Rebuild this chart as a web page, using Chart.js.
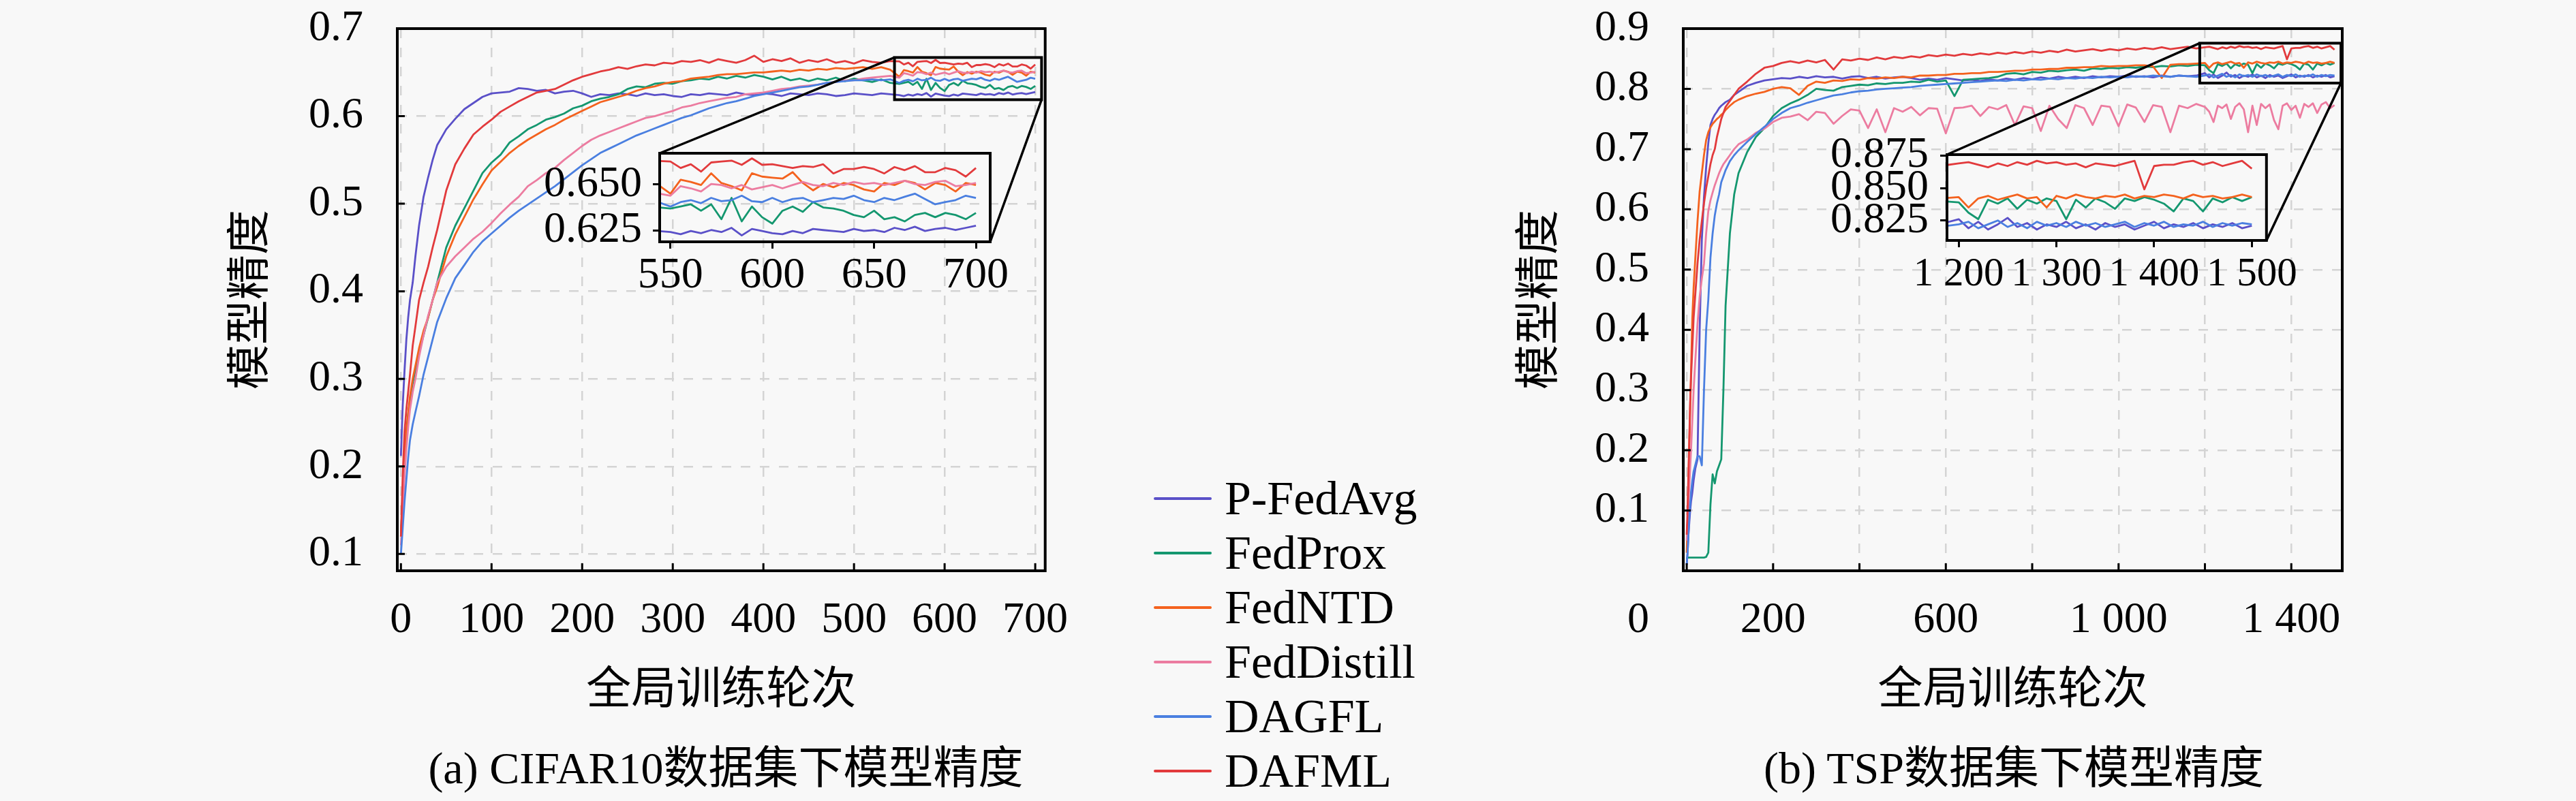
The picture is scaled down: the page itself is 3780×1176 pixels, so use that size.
<!DOCTYPE html>
<html><head><meta charset="utf-8"><title>模型精度</title>
<script src="https://cdn.jsdelivr.net/npm/chart.js@4.4.1/dist/chart.umd.min.js"></script>
<style>
html,body{margin:0;padding:0;}
body{width:3780px;height:1176px;background:#f8f8f8;position:relative;overflow:hidden;font-family:'Liberation Serif','Noto Sans CJK SC',serif;color:#000;}
canvas{position:absolute;display:block;}
#lm{left:333px;top:-40px;}
#rm{left:2220px;top:-40px;}
#li{left:768px;top:177px;}
#ri{left:2657px;top:178px;}
.caption{position:absolute;top:1092px;font-size:66px;line-height:72px;white-space:nowrap;transform:translateX(-50%);}
#legend{position:absolute;left:1693px;top:692px;}
.item{height:80px;display:flex;align-items:center;font-size:70px;line-height:80px;white-space:nowrap;}
.swatch{width:85px;height:4px;margin-right:19px;border-radius:2px;}
</style></head>
<body>
<canvas id="lm" width="1276" height="1098"></canvas>
<canvas id="rm" width="1277" height="1098"></canvas>
<canvas id="li" width="725" height="288"></canvas>
<canvas id="ri" width="726" height="285"></canvas>
<div class="caption" style="left:1065px">(a) CIFAR10数据集下模型精度</div>
<div class="caption" style="left:2955px">(b) TSP数据集下模型精度</div>
<div id="legend"></div>
<script>
// ---------- series ----------
const seriesNames = ['P-FedAvg','FedProx','FedNTD','FedDistill','DAGFL','DAFML'];
const seriesColors = ['#5a50c8','#14976f','#f4621e','#ec7ca0','#4a7fe0','#e23a3c'];
const xTitle = '全局训练轮次';
const yTitle = '模型精度';

// ---------- (a) CIFAR10 ----------
const cifarRounds = [0,2,4,6,8,10,13,16,20,25,30,35,40,50,60,70,80,90,
100,110,120,130,140,150,160,170,180,190,200,210,220,230,240,250,260,270,280,290,300,310,320,330,340,350,360,370,380,390,400,410,420,430,440,450,460,470,480,490,500,510,520,530,540,
550,555,560,565,570,575,580,585,590,595,600,605,610,615,620,625,630,635,640,645,650,655,660,665,670,675,680,685,690,695,700];
const cifarPFedAvg = [0.212,0.27,0.31,0.345,0.37,0.39,0.41,0.44,0.475,0.508,0.53,0.55,0.567,0.585,0.597,0.608,0.615,0.622,
0.626,0.627,0.628,0.632,0.631,0.629,0.630,0.626,0.628,0.629,0.626,0.622,0.625,0.624,0.626,0.625,0.623,0.626,0.624,0.625,0.623,0.622,0.625,0.624,0.626,0.625,0.624,0.627,0.625,0.624,0.626,0.625,0.623,0.626,0.625,0.624,0.626,0.625,0.623,0.624,0.626,0.625,0.624,0.626,0.625,
0.6241,0.6229,0.6247,0.6235,0.6252,0.6241,0.6264,0.6223,0.6258,0.6247,0.6235,0.6229,0.6247,0.6235,0.6258,0.6252,0.6247,0.6241,0.6258,0.6247,0.6252,0.6241,0.6264,0.6252,0.6270,0.6247,0.6258,0.6264,0.6252,0.6264,0.6276];
const cifarFedProx = [0.12,0.17,0.21,0.24,0.26,0.275,0.295,0.31,0.33,0.35,0.37,0.39,0.41,0.45,0.475,0.495,0.515,0.535,
0.547,0.556,0.57,0.577,0.585,0.59,0.596,0.599,0.603,0.609,0.612,0.617,0.62,0.622,0.625,0.631,0.634,0.633,0.637,0.638,0.637,0.640,0.641,0.643,0.642,0.645,0.643,0.646,0.644,0.647,0.645,0.642,0.645,0.641,0.643,0.640,0.643,0.641,0.644,0.640,0.643,0.641,0.639,0.642,0.638,
0.6369,0.638,0.6392,0.6357,0.6392,0.6311,0.6427,0.6299,0.638,0.6322,0.6287,0.6357,0.638,0.6351,0.6404,0.6375,0.6369,0.6357,0.6334,0.6322,0.6357,0.6311,0.6322,0.6299,0.6334,0.6345,0.6322,0.6345,0.6334,0.6311,0.6345];
const cifarFedNTD = [0.12,0.17,0.21,0.24,0.26,0.28,0.30,0.315,0.335,0.355,0.37,0.39,0.405,0.44,0.465,0.485,0.505,0.522,
0.538,0.548,0.558,0.566,0.573,0.579,0.585,0.59,0.596,0.601,0.606,0.611,0.616,0.619,0.622,0.625,0.629,0.632,0.634,0.637,0.639,0.640,0.643,0.644,0.645,0.647,0.648,0.648,0.649,0.650,0.650,0.651,0.652,0.651,0.653,0.652,0.654,0.653,0.655,0.654,0.655,0.656,0.654,0.656,0.653,
0.645,0.6526,0.6514,0.6497,0.6561,0.6508,0.6491,0.6468,0.6561,0.6543,0.6537,0.6532,0.6567,0.6508,0.6468,0.6503,0.6485,0.6508,0.6497,0.6473,0.6462,0.6508,0.6497,0.652,0.6508,0.6473,0.6508,0.6497,0.6462,0.6508,0.6497];
const cifarFedDistill = [0.11,0.15,0.19,0.22,0.245,0.265,0.285,0.30,0.325,0.35,0.372,0.39,0.41,0.428,0.44,0.45,0.46,0.468,
0.478,0.489,0.499,0.508,0.52,0.527,0.535,0.541,0.55,0.558,0.566,0.573,0.578,0.582,0.586,0.59,0.594,0.598,0.600,0.603,0.606,0.610,0.612,0.615,0.617,0.619,0.621,0.622,0.625,0.626,0.627,0.629,0.631,0.632,0.634,0.635,0.636,0.638,0.639,0.641,0.641,0.643,0.644,0.645,0.646,
0.6439,0.6491,0.6479,0.6462,0.6503,0.6497,0.6479,0.6497,0.6473,0.6485,0.6497,0.6479,0.6497,0.6514,0.6497,0.6491,0.6508,0.6497,0.6514,0.6503,0.6508,0.6497,0.6508,0.652,0.6503,0.6497,0.6514,0.652,0.6491,0.6497,0.6508];
const cifarDAGFL = [0.10,0.13,0.16,0.185,0.21,0.23,0.248,0.262,0.28,0.305,0.325,0.345,0.365,0.392,0.415,0.43,0.445,0.457,
0.466,0.475,0.484,0.492,0.499,0.506,0.513,0.52,0.528,0.536,0.544,0.551,0.558,0.563,0.568,0.573,0.578,0.582,0.586,0.59,0.594,0.598,0.601,0.605,0.609,0.612,0.615,0.617,0.620,0.623,0.625,0.627,0.629,0.631,0.633,0.634,0.636,0.638,0.639,0.640,0.641,0.641,0.642,0.641,0.642,
0.638,0.6404,0.6415,0.6398,0.6427,0.6409,0.6415,0.6439,0.6409,0.6404,0.6427,0.6404,0.6421,0.6427,0.6404,0.6415,0.6427,0.6421,0.6439,0.6415,0.6404,0.6427,0.6415,0.6433,0.645,0.6421,0.6392,0.6404,0.6415,0.6439,0.6427];
const cifarDAFML = [0.12,0.19,0.24,0.265,0.285,0.305,0.338,0.36,0.39,0.41,0.428,0.45,0.47,0.515,0.545,0.563,0.579,0.588,
0.596,0.605,0.611,0.617,0.622,0.627,0.629,0.631,0.636,0.641,0.645,0.648,0.651,0.653,0.656,0.654,0.657,0.659,0.658,0.661,0.660,0.663,0.662,0.664,0.661,0.665,0.663,0.661,0.664,0.669,0.662,0.665,0.663,0.666,0.661,0.664,0.662,0.665,0.661,0.663,0.660,0.664,0.662,0.661,0.663,
0.6625,0.659,0.661,0.657,0.662,0.6625,0.663,0.6607,0.6642,0.6607,0.661,0.660,0.659,0.660,0.6595,0.661,0.656,0.6584,0.6584,0.6595,0.6584,0.656,0.6595,0.6578,0.660,0.6567,0.6567,0.659,0.6578,0.6543,0.659];

// ---------- (b) TSP ----------
const tspRounds = [0,2,4,6,8,10,13,16,20,25,30,35,40,45,50,55,60,65,70,75,80,85,90,100,110,120,140,160,180,
200,220,240,260,280,300,320,340,360,380,400,420,440,460,480,500,520,540,560,580,600,620,640,660,680,700,720,740,760,780,800,820,840,860,880,900,920,940,960,980,1000,1020,1040,1060,1080,1100,1120,1140,1160,1180,
1200,1210,1220,1230,1240,1250,1260,1270,1280,1290,1300,1310,1320,1330,1340,1350,1360,1370,1380,1390,1400,1410,1420,1430,1440,1450,1460,1470,1480,1490,1500];
const tspPFedAvg = [0.01,0.03,0.06,0.08,0.10,0.115,0.13,0.15,0.17,0.185,0.40,0.55,0.62,0.67,0.71,0.74,0.75,0.757,0.762,0.768,0.772,0.775,0.778,0.782,0.79,0.795,0.805,0.81,0.814,
0.816,0.818,0.817,0.82,0.818,0.821,0.819,0.82,0.817,0.82,0.821,0.818,0.82,0.817,0.819,0.82,0.818,0.815,0.817,0.815,0.818,0.816,0.814,0.815,0.813,0.816,0.814,0.817,0.815,0.818,0.816,0.819,0.817,0.82,0.818,0.82,0.818,0.821,0.819,0.821,0.82,0.822,0.82,0.821,0.819,0.822,0.82,0.822,0.821,0.822,
0.826,0.819,0.824,0.818,0.822,0.827,0.82,0.823,0.818,0.822,0.82,0.824,0.819,0.822,0.818,0.823,0.82,0.822,0.818,0.821,0.824,0.819,0.822,0.82,0.823,0.819,0.822,0.82,0.823,0.819,0.821];
const tspFedProx = [0.02,0.022,0.022,0.022,0.022,0.022,0.022,0.022,0.022,0.022,0.022,0.022,0.022,0.023,0.03,0.11,0.16,0.145,0.165,0.175,0.185,0.30,0.44,0.56,0.625,0.66,0.695,0.72,0.735,
0.755,0.768,0.776,0.782,0.79,0.80,0.798,0.797,0.803,0.805,0.807,0.806,0.809,0.808,0.81,0.81,0.812,0.811,0.815,0.812,0.814,0.788,0.815,0.816,0.817,0.818,0.82,0.825,0.826,0.824,0.828,0.827,0.83,0.829,0.831,0.832,0.83,0.834,0.833,0.835,0.834,0.836,0.835,0.837,0.836,0.838,0.837,0.839,0.838,0.840,
0.839,0.831,0.826,0.841,0.838,0.842,0.834,0.841,0.838,0.842,0.840,0.826,0.841,0.835,0.842,0.839,0.834,0.842,0.840,0.843,0.841,0.838,0.832,0.842,0.840,0.832,0.842,0.839,0.843,0.840,0.843];
const tspFedNTD = [0.03,0.08,0.15,0.21,0.27,0.33,0.42,0.47,0.52,0.58,0.63,0.66,0.69,0.715,0.728,0.736,0.742,0.746,0.75,0.753,0.757,0.76,0.765,0.772,0.778,0.782,0.788,0.792,0.795,
0.80,0.803,0.801,0.79,0.805,0.812,0.81,0.814,0.813,0.816,0.815,0.818,0.817,0.819,0.818,0.82,0.819,0.822,0.822,0.823,0.823,0.825,0.825,0.826,0.826,0.828,0.828,0.829,0.83,0.83,0.832,0.832,0.833,0.833,0.835,0.835,0.836,0.836,0.838,0.837,0.838,0.838,0.839,0.839,0.837,0.818,0.840,0.841,0.841,0.842,
0.843,0.835,0.842,0.844,0.841,0.843,0.845,0.842,0.843,0.835,0.844,0.842,0.845,0.843,0.842,0.844,0.843,0.845,0.842,0.844,0.843,0.845,0.844,0.842,0.845,0.843,0.844,0.842,0.843,0.845,0.843];
const tspFedDistill = [0.05,0.08,0.11,0.14,0.17,0.20,0.25,0.30,0.35,0.41,0.455,0.485,0.51,0.56,0.597,0.615,0.628,0.64,0.65,0.66,0.668,0.675,0.68,0.69,0.70,0.708,0.716,0.727,0.734,
0.745,0.752,0.754,0.758,0.748,0.762,0.76,0.742,0.755,0.766,0.764,0.735,0.766,0.728,0.768,0.762,0.77,0.756,0.768,0.767,0.726,0.768,0.769,0.772,0.755,0.77,0.766,0.773,0.74,0.771,0.768,0.73,0.772,0.75,0.735,0.773,0.768,0.74,0.772,0.77,0.738,0.774,0.769,0.745,0.773,0.77,0.728,0.772,0.768,0.775,
0.77,0.762,0.745,0.772,0.768,0.774,0.75,0.77,0.776,0.766,0.728,0.772,0.74,0.775,0.768,0.774,0.748,0.733,0.772,0.776,0.765,0.772,0.752,0.775,0.77,0.776,0.76,0.774,0.778,0.768,0.773];
const tspDAGFL = [0.01,0.03,0.06,0.09,0.11,0.13,0.15,0.165,0.176,0.19,0.19,0.175,0.30,0.40,0.45,0.52,0.56,0.59,0.61,0.625,0.645,0.655,0.665,0.68,0.69,0.698,0.712,0.725,0.737,
0.75,0.76,0.768,0.772,0.777,0.781,0.785,0.789,0.791,0.794,0.796,0.797,0.799,0.80,0.801,0.802,0.803,0.805,0.806,0.807,0.808,0.809,0.81,0.811,0.812,0.813,0.814,0.813,0.815,0.814,0.816,0.815,0.817,0.816,0.818,0.817,0.819,0.818,0.82,0.819,0.82,0.819,0.821,0.82,0.822,0.821,0.82,0.822,0.821,0.82,
0.822,0.824,0.819,0.822,0.825,0.82,0.823,0.819,0.824,0.821,0.823,0.82,0.824,0.821,0.823,0.82,0.822,0.824,0.82,0.823,0.821,0.824,0.82,0.822,0.821,0.824,0.82,0.823,0.821,0.823,0.822];
const tspDAFML = [0.06,0.10,0.16,0.22,0.28,0.32,0.37,0.42,0.46,0.51,0.55,0.58,0.61,0.635,0.655,0.675,0.69,0.70,0.72,0.735,0.75,0.76,0.77,0.78,0.79,0.80,0.812,0.825,0.835,
0.838,0.843,0.846,0.843,0.847,0.844,0.848,0.832,0.849,0.847,0.850,0.848,0.852,0.849,0.853,0.851,0.854,0.852,0.856,0.854,0.857,0.855,0.858,0.856,0.859,0.857,0.860,0.858,0.861,0.859,0.862,0.860,0.863,0.861,0.865,0.862,0.864,0.866,0.863,0.866,0.864,0.867,0.865,0.868,0.866,0.869,0.866,0.868,0.870,0.867,
0.869,0.870,0.868,0.866,0.869,0.867,0.870,0.868,0.871,0.869,0.870,0.868,0.869,0.866,0.869,0.868,0.867,0.869,0.871,0.849,0.867,0.868,0.868,0.870,0.871,0.868,0.870,0.867,0.869,0.871,0.865];

// ---------- ticks ----------
const cifarXTicks = [0,100,200,300,400,500,600,700];
const cifarXTickLabels = ['0','100','200','300','400','500','600','700'];
const cifarYTicks = [0.1,0.2,0.3,0.4,0.5,0.6,0.7];
const cifarYTickLabels = ['0.1','0.2','0.3','0.4','0.5','0.6','0.7'];
const cifarInsetXTicks = [550,600,650,700];
const cifarInsetXTickLabels = ['550','600','650','700'];
const cifarInsetYTicks = [0.625,0.65];
const cifarInsetYTickLabels = ['0.625','0.650'];
const tspXTicks = [0,200,400,600,800,1000,1200,1400];
const tspXTickLabels = ['','200','','600','','1 000','','1 400'];
const tspStrayZeroLabel = '0';
const tspYTicks = [0.1,0.2,0.3,0.4,0.5,0.6,0.7,0.8,0.9];
const tspYTickLabels = ['0.1','0.2','0.3','0.4','0.5','0.6','0.7','0.8','0.9'];
const tspInsetXTicks = [1200,1300,1400,1500];
const tspInsetXTickLabels = ['1 200','1 300','1 400','1 500'];
const tspInsetYTicks = [0.825,0.85,0.875];
const tspInsetYTickLabels = ['0.825','0.850','0.875'];

// ---------- axis ranges ----------
const cifarRange = {xMin:-4, xMax:711, yMin:0.0808, yMax:0.7};
const cifarInsetRange = {xMin:544.7, xMax:707, yMin:0.6188, yMax:0.667};
const tspRange = {xMin:-8, xMax:1518, yMin:0, yMax:0.9};
const tspInsetRange = {xMin:1188, xMax:1515, yMin:0.8096, yMax:0.8758};

// ---------- helpers ----------
Chart.defaults.font.family = "'Liberation Serif','Noto Sans CJK SC',serif";
Chart.defaults.color = '#000';

const framePlugin = {
  id:'frame',
  afterDatasetsDraw(chart, args, o){
    const ctx = chart.ctx, a = chart.chartArea;
    ctx.save();
    ctx.strokeStyle = '#000';
    if (o.inward){
      const xs = chart.scales.x, ys = chart.scales.y;
      ctx.lineWidth = 3;
      ctx.beginPath();
      xs.ticks.forEach(t=>{const p = xs.getPixelForValue(t.value); if(p>a.left+2 && p<a.right-2){ctx.moveTo(p,a.bottom);ctx.lineTo(p,a.bottom-11);}});
      ys.ticks.forEach(t=>{const p = ys.getPixelForValue(t.value); if(p>a.top+2 && p<a.bottom-2){ctx.moveTo(a.left,p);ctx.lineTo(a.left+11,p);}});
      ctx.stroke();
    }
    if (o.box){
      ctx.lineWidth = 4;
      ctx.strokeRect(a.left, a.top, a.right-a.left, a.bottom-a.top);
    }
    ctx.restore();
  }
};
const zoomLinkPlugin = {
  id:'zoomLink',
  afterDatasetsDraw(chart, args, o){
    if (!o.inset) return;
    const inset = o.inset;
    const ctx = chart.ctx, xs = chart.scales.x, ys = chart.scales.y;
    const ix = inset.scales.x, iy = inset.scales.y;
    const x1 = xs.getPixelForValue(ix.min), x2 = xs.getPixelForValue(ix.max);
    const y1 = ys.getPixelForValue(iy.max), y2 = ys.getPixelForValue(iy.min);
    const dx = inset.canvas.offsetLeft - chart.canvas.offsetLeft;
    const dy = inset.canvas.offsetTop - chart.canvas.offsetTop;
    const b = inset.chartArea;
    ctx.save();
    ctx.strokeStyle = '#000';
    ctx.lineWidth = 4;
    ctx.strokeRect(x1, y1, x2-x1, y2-y1);
    ctx.lineWidth = 3.5;
    ctx.beginPath();
    ctx.moveTo(x1, y1); ctx.lineTo(b.left+dx, b.top+dy);
    ctx.moveTo(x2, y2); ctx.lineTo(b.right+dx, b.bottom+dy);
    ctx.stroke();
    ctx.restore();
  }
};
const strayZeroPlugin = {
  id:'strayZero',
  afterDraw(chart, args, o){
    if (!o.text) return;
    const ctx = chart.ctx, xs = chart.scales.x, ys = chart.scales.y;
    const size = xs.options.ticks.font.size;
    ctx.save();
    ctx.font = size + "px 'Liberation Serif', serif";
    ctx.fillStyle = '#000';
    ctx.textAlign = 'right';
    ctx.textBaseline = 'middle';
    ctx.fillText(o.text, ys.right - ys.options.ticks.padding, xs.top + xs.options.ticks.padding + size/2);
    ctx.restore();
  }
};
Chart.register(framePlugin, zoomLinkPlugin, strayZeroPlugin);

function buildDatasets(rounds, series){
  return series.map((vals,i)=>({
    label: seriesNames[i],
    data: rounds.map((r,k)=>({x:r, y:vals[k]})),
    borderColor: seriesColors[i],
    backgroundColor: seriesColors[i],
    borderWidth: 2.8,
    pointRadius: 0,
    tension: 0,
    fill: false,
    order: series.length - 1 - i,
    borderJoinStyle: 'round'
  }));
}

function mainChart(id, rounds, series, range, xt, xl, yt, yl, yTitlePad, inset, stray){
  return new Chart(document.getElementById(id), {
    type:'line',
    data:{datasets: buildDatasets(rounds, series)},
    options:{
      responsive:false, animation:false, events:[],
      layout:{padding:{top:72,right:60,bottom:0,left:0}},
      plugins:{legend:{display:false}, tooltip:{enabled:false},
        frame:{inward:true, box:true}, zoomLink:{inset:inset}, strayZero:{text:stray||''}},
      scales:{
        x:{type:'linear', bounds:'data', min:range.xMin, max:range.xMax,
          afterBuildTicks:s=>{s.ticks = xt.map(v=>({value:v}));},
          afterFit:s=>{s.height = 220;},
          ticks:{autoSkip:false, maxRotation:0, minRotation:0, padding:41, color:'#000',
            font:{size:64, lineHeight:1}, callback:(v,i)=>xl[i]},
          grid:{drawTicks:false, color:'#d4d4d4', lineWidth:2.5},
          border:{display:false, dash:[14,14]},
          title:{display:true, text:xTitle, color:'#000', font:{size:66, lineHeight:1}, padding:{top:0, bottom:9}}
        },
        y:{type:'linear', bounds:'data', min:range.yMin, max:range.yMax,
          afterBuildTicks:s=>{s.ticks = yt.map(v=>({value:v}));},
          afterFit:s=>{s.width = 250;},
          ticks:{autoSkip:false, padding:50, color:'#000', font:{size:64, lineHeight:1}, callback:(v,i)=>yl[i]},
          grid:{drawTicks:false, color:'#d4d4d4', lineWidth:2.5},
          border:{display:false, dash:[14,14]},
          title:{display:true, text:yTitle, color:'#000', font:{size:66, lineHeight:1}, padding:{top:yTitlePad, bottom:0}}
        }
      }
    }
  });
}

function insetChart(id, rounds, series, range, xt, xl, yt, yl, yPad, xFont){
  const tickGrid = {display:true, drawOnChartArea:false, drawTicks:true, tickLength:10, color:'#000', lineWidth:3};
  return new Chart(document.getElementById(id), {
    type:'line',
    data:{datasets: buildDatasets(rounds, series)},
    options:{
      responsive:false, animation:false, events:[],
      layout:{padding:{top:40,right:40,bottom:0,left:0}},
      plugins:{legend:{display:false}, tooltip:{enabled:false}, frame:{inward:false, box:true}},
      scales:{
        x:{type:'linear', bounds:'data', min:range.xMin, max:range.xMax,
          afterBuildTicks:s=>{s.ticks = xt.map(v=>({value:v}));},
          afterFit:s=>{s.height = 110;},
          ticks:{autoSkip:false, maxRotation:0, minRotation:0, padding:8 + (64-xFont)/2, color:'#000', font:{size:xFont, lineHeight:1}, callback:(v,i)=>xl[i]},
          grid:tickGrid, border:{display:false}
        },
        y:{type:'linear', bounds:'data', min:range.yMin, max:range.yMax,
          afterBuildTicks:s=>{s.ticks = yt.map(v=>({value:v}));},
          afterFit:s=>{s.width = 200;},
          ticks:{autoSkip:false, padding:yPad, color:'#000', font:{size:64, lineHeight:1}, callback:(v,i)=>yl[i]},
          grid:tickGrid, border:{display:false}
        }
      }
    }
  });
}

const cifarSeries = [cifarPFedAvg, cifarFedProx, cifarFedNTD, cifarFedDistill, cifarDAGFL, cifarDAFML];
const tspSeries = [tspPFedAvg, tspFedProx, tspFedNTD, tspFedDistill, tspDAGFL, tspDAFML];

const cifarInset = insetChart('li', cifarRounds, cifarSeries, cifarInsetRange,
  cifarInsetXTicks, cifarInsetXTickLabels, cifarInsetYTicks, cifarInsetYTickLabels, 16, 64);
const tspInset = insetChart('ri', tspRounds, tspSeries, tspInsetRange,
  tspInsetXTicks, tspInsetXTickLabels, tspInsetYTicks, tspInsetYTickLabels, 17, 59);

mainChart('lm', cifarRounds, cifarSeries, cifarRange, cifarXTicks, cifarXTickLabels, cifarYTicks, cifarYTickLabels, 4, cifarInset, '');
mainChart('rm', tspRounds, tspSeries, tspRange, tspXTicks, tspXTickLabels, tspYTicks, tspYTickLabels, 9, tspInset, tspStrayZeroLabel);

// legend
const legend = document.getElementById('legend');
seriesNames.forEach((n,i)=>{
  const it = document.createElement('div'); it.className='item';
  const sw = document.createElement('div'); sw.className='swatch'; sw.style.background = seriesColors[i];
  const tx = document.createElement('span'); tx.textContent = n;
  it.appendChild(sw); it.appendChild(tx); legend.appendChild(it);
});
</script>
</body></html>
